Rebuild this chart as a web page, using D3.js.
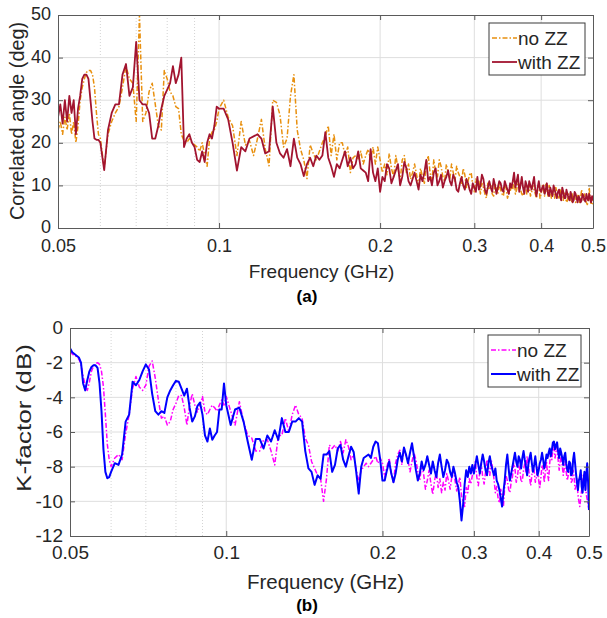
<!DOCTYPE html>
<html lang="en">
<head>
<meta charset="UTF-8">
<title>Correlated angle and K-factor vs frequency</title>
<script src="https://cdnjs.cloudflare.com/ajax/libs/d3/7.8.5/d3.min.js"></script>
<style>
  body { margin: 0; background: #fff; }
  svg { display: block; font-family: "Liberation Sans", Arial, sans-serif; }
</style>
</head>
<body>
<svg id="chart" width="607" height="618"></svg>
<script>
// sample frequencies in MHz, shared by all four curves
const freqMHz = [
  50,50.5,51,51.5,52,52.5,53,53.5,54,54.5,55,55.5,56,56.5,57,57.5,58,58.5,59,59.5,60,
  61,62,63,64,65,66,67,68,69,70,71,72,73,74,75,76,77,78,79,80,
  81,82,83,84,85,86,87,88,89,90,91,92,93,94,95,96,97,98,99,100,
  102,104,106,108,110,112,114,116,118,120,122,124,126,128,130,132,134,136,138,140,
  142,144,146,148,150,152,154,156,158,160,162,164,166,168,170,172,174,176,178,180,
  182,184,186,188,190,192,194,196,198,200,
  202,204,206,208,210,212,214,216,218,220,222,224,226,228,230,232,234,236,238,240,
  242,244,246,248,250,252,254,256,258,260,262,264,266,268,270,272,274,276,278,280,
  282,284,286,288,290,292,294,296,298,300,302,304,306,308,310,312,314,316,318,320,
  322,324,326,328,330,332,334,336,338,340,342,344,346,348,350,352,354,356,358,360,
  362,364,366,368,370,372,374,376,378,380,382,384,386,388,390,392,394,396,398,400,
  402,404,406,408,410,412,414,416,418,420,422,424,426,428,430,432,434,436,438,440,
  442,444,446,448,450,452,454,456,458,460,462,464,466,468,470,472,474,476,478,480,
  482,484,486,488,490,492,494,496,498,500
];

// (a) correlated angle, deg
const angleNoZZ = [
  23,25,22,26,23,27,22,25,20,24,30,33,35,36.5,37,37,36,33,27,22,21,
  14,22,25,27,28.5,33,38,35,34,25,50,25,27,32,34,29,24,23,37,35,
  32,31,28.5,28,22,20.5,20,21,20,19.5,19,18,20,17,14.5,21,22.5,23,25,28,
  30,26,24,17,25,19.5,20.5,17,21,25.5,18.5,14.6,30,29.5,26.5,19,21,31,36,23,
  18.5,16,11.6,19.5,17.5,16,18,20,21.5,24,17,22,16,20,20,17,19,13,16.5,17,
  16,18,15,17,18.5,16,19,15,19,16,
  13,15,12.5,17.5,14,12,17,14,11,16,17,13,15,11.5,13,15,12.5,10,14,12,
  10.5,15,17,13,11,16,13,12,16,14.5,12,11,15,13,11.5,15,13,11,14.5,13,
  12,10.5,14,12.5,9.5,11,12.5,13,10,8.5,11.5,10,11,8,10.5,9.5,8,7,10.5,9,
  10,8,7.5,10.5,9,8,10.5,9,8,7.5,10,9.5,7,8,8.5,10,9,12,8,9,
  11,10,9,8,7.5,9.5,10,8,9,10,7.5,8.5,10,9,8,7,9.5,10.5,7,8,
  10,9,7.5,10.5,9,7.5,10,9,7,8,9,7,9.5,8.5,7.5,7,9,8,7,6.5,
  8.5,7.5,6,6.5,8,7.5,7,6,8,7,7.5,6,6.5,7.5,8,6,7,9,7.5,6.5,
  8,7,6,5.5,7,9.5,6.5,5.5,7,5.5
];
const angleWithZZ = [
  26,29,24.5,30,25,31,27,30,22,28,31,35,36,36,35,30,25,21,20.7,20.7,20,
  13.6,23,27,29,29,36,38.5,31,33,43.7,30,29,29,27,21,21,24,28,31,32.5,
  34,38,34,36,40,19,21,22,20,19,16,15.5,18,15.5,20,22,21,24,28.5,28,
  28,25.5,20,13.5,19,18,21,21.5,22,21,17.5,18,28.5,20,17.5,16.5,18.5,14.5,21,16.5,
  15,12.2,15,16.5,14.5,17,16,17,22.5,16.5,14.5,12,15,14,16,18,14.5,16.5,14,15,
  18,14,13.5,13,11,18.5,13,11,14,8.5,
  12,11,15,14,10.5,12,13.5,15,10,12,15.5,14,11,10,11.5,13,11,9,12.5,11,
  13,16,11,12,10,13,14,10,11,12.5,9.5,11,12,13.5,11,10,12.5,11.5,9,8.5,
  10.5,12,10,9,11.5,10.5,9,8,10.5,9.5,8.5,12,9,10,12.5,11.5,9,8,9.5,11,
  9.5,8.5,11.5,10,8,9.5,11,10.5,9,8.5,11,10,9,8,10.5,9.5,11,13,9.5,11,
  12.5,8.5,10,12,9.5,8,11,10,8.5,11,10,9,10.5,12,9,7.5,9.5,11,9,8.5,
  9.5,10,8,9,10.5,8,7.5,9.5,8.5,7.5,10,9,8,7,8.5,9,7.5,6.5,9.5,8.5,
  7,7,9,8,7,6.5,8.5,7.5,6,6.5,8.5,8,7,6,7.5,7,6,6.5,8,7.5,
  6.5,6.2,8,7,6.5,8,7,6,7.5,6.5
];

// (b) K-factor, dB
const kNoZZ = [
  -1.36,-1.5,-1.6,-1.65,-1.8,-2.1,-2.8,-3.3,-3.6,-3.1,-2.5,-2.2,-2.05,-2,-2.1,-2.5,-3.4,-5,-6.7,-7.6,-8,
  -7.5,-7.3,-7.6,-6.1,-5,-3.5,-2.8,-3.4,-3.6,-3.3,-2.2,-1.9,-2.9,-4.15,-5.2,-5.1,-5.6,-5.4,-4.7,-4.35,
  -3.9,-3.9,-4.6,-5.6,-4.45,-3.8,-4.45,-4.85,-4.45,-3.95,-4.85,-5,-4.7,-4.45,-4.6,-4.8,-4.45,-4.15,-4.45,-3.95,
  -4.8,-5.6,-4.25,-5.4,-6.2,-6.35,-7.1,-7.1,-6.45,-6.45,-7.1,-7.9,-6.2,-6.2,-5.2,-6,-5,-4.45,-5,-5.2,
  -6.35,-6.75,-7.7,-8.1,-8.5,-8.7,-10,-8.7,-6.75,-6.95,-6.75,-7.1,-6.55,-7.2,-6.45,-6.85,-7.6,-7.3,-8.2,-8.8,
  -8.2,-8,-7.8,-8,-7.8,-7.6,-7.4,-7.8,-7.5,-7.8,
  -8.6,-8,-7.5,-8.4,-8.9,-7.8,-7.3,-7.05,-7.9,-6.85,-7.4,-7.6,-8.3,-7.7,-7.2,-7.6,-8.3,-8.8,-7.9,-8.4,
  -9.3,-8.8,-8.2,-9,-9.6,-8.8,-8.3,-9.2,-8.7,-9.5,-8.9,-9.35,-8.4,-8.8,-9.3,-8.6,-8.2,-8.8,-9.4,-9,
  -8.6,-9.7,-10,-10.3,-9.2,-9.5,-8.7,-9,-8.5,-8.2,-7.7,-8.6,-9.1,-8.3,-7.8,-8.6,-9,-8.3,-7.6,-8,
  -8.5,-7.6,-8.1,-8.7,-9.5,-9.15,-9.8,-10.1,-9.3,-9.7,-10.3,-9.15,-8.5,-8.8,-9.3,-9.5,-8.9,-8.6,-7.8,-8.1,
  -8.9,-8.6,-7.9,-8.2,-8.9,-8.8,-8.2,-7.8,-8.3,-7.4,-7.9,-8.6,-9.1,-8.5,-7.9,-8.2,-8.9,-8.6,-8,-8.8,
  -9.2,-8.6,-7.9,-8.2,-8.9,-8.3,-7.7,-8.4,-8.8,-7.8,-7.2,-7.6,-7,-6.85,-7.5,-7.15,-6.9,-7.6,-8.2,-7.7,
  -7.3,-7.9,-8.5,-8.1,-7.7,-8.3,-8.8,-8.5,-7.9,-8.2,-8.9,-8.8,-8.2,-8.6,-9.3,-9.15,-8.7,-9.6,-10,-10.3,
  -9.8,-9.35,-8.9,-8.4,-8.8,-9,-9.6,-9.9,-10.2,-10.5
];
const kWithZZ = [
  -1.17,-1.4,-1.5,-1.6,-1.7,-2,-3.2,-3.6,-3,-2.5,-2.25,-2.15,-2.15,-2.3,-3.2,-4.8,-7,-8.3,-8.67,-8.6,-8.3,
  -7.8,-7.9,-7.3,-5.4,-5,-3.1,-3.3,-3,-2.5,-2.1,-2.4,-3.8,-4.8,-5,-4.8,-4.9,-4,-3.6,-3.3,-3.05,
  -3.1,-3.5,-3.9,-3.5,-4.6,-5.4,-5.1,-4.5,-4.3,-5,-6.2,-6.55,-5.8,-6.45,-6.2,-6,-4.7,-4.7,-3.2,-4.45,
  -5.6,-4.7,-4.6,-5.4,-6.55,-7.6,-6.4,-6.4,-6.95,-6.2,-6.55,-5.9,-6.45,-5.2,-6,-6,-5.4,-5.4,-5.2,-5.4,
  -7.1,-8.1,-8.3,-9.05,-8.5,-8.7,-7.3,-7.3,-7.1,-8.3,-7.9,-6.95,-6.75,-7.6,-8,-7.4,-6.85,-7.15,-8.3,-9.55,
  -8,-7.5,-7.4,-7.3,-7.5,-6.85,-6.55,-6.65,-7.6,-8.8,
  -8.8,-8.2,-7.7,-8.4,-8.9,-8.4,-7.6,-7.2,-7.7,-6.9,-7.3,-7.8,-7.2,-6.65,-7.4,-8.2,-8.8,-8.4,-7.7,-8.2,
  -7.9,-7.4,-7.9,-8.4,-7.7,-8.2,-8.6,-7.8,-7.3,-8,-8.6,-8.2,-7.6,-7.8,-8.3,-8.6,-8,-8.4,-8.9,-9.2,
  -10,-11.1,-10.2,-9,-8.2,-8.6,-8,-8.4,-7.9,-8.4,-7.9,-7.4,-7.9,-8.4,-7.8,-7.3,-7.7,-8.2,-8.5,-7.8,
  -7.4,-7.9,-8.2,-8.5,-8.1,-8.8,-9,-9.35,-9.8,-10.3,-9.5,-8.8,-7.9,-7.3,-8.1,-8.8,-8.4,-8,-7.6,-7.2,
  -7.7,-8,-7.4,-7.6,-8.1,-7.5,-7.1,-7.6,-8,-8.5,-7.9,-7.5,-7.2,-7.8,-8.3,-7.9,-7.4,-8,-8.5,-8.2,
  -7.8,-7.6,-7.2,-7.6,-8.1,-7.8,-7.3,-7.5,-7.2,-6.95,-7.4,-7.05,-6.6,-6.55,-7,-6.75,-6.6,-7.15,-7.5,-6.95,
  -7.2,-7.5,-7.9,-7.4,-7.2,-7.8,-8.2,-8.3,-7.7,-7.8,-8.5,-8.4,-7.6,-7.2,-7.8,-8.4,-8.9,-9.35,-8.8,-8.6,
  -8.2,-9.15,-9.5,-8.8,-8.3,-9.35,-8.5,-7.8,-8.9,-10.5
];

const xTicks = [0.05, 0.1, 0.2, 0.3, 0.4, 0.5];
const xMinor = [0.06, 0.07, 0.08, 0.09];
const seriesNames = ["no ZZ", "with ZZ"];

const panels = [
  { id: "a", box: {left: 58, top: 15, right: 593, bottom: 228},
    yDomain: [0, 50], yTicks: [0, 10, 20, 30, 40, 50], ylabel: "Correlated angle (deg)",
    series: [angleNoZZ, angleWithZZ], colors: ["#e8900f", "#a2142f"], widths: [1.5, 1.8],
    dash: ["5,2,1.5,2", null], legend: {x: 489, y: 23, w: 96, h: 52},
    tickSize: 18, xPad: 11.5, yDy: "0.26em", xlabelY: 278, xlabelSize: 19, tagY: 302,
    ylabelX: 24, ylabelY: 121, ylabelSize: 20, ylabelLen: 198 },
  { id: "b", box: {left: 70, top: 328, right: 589, bottom: 536},
    yDomain: [-12, 0], yTicks: [-12, -10, -8, -6, -4, -2, 0], ylabel: "K-factor (dB)",
    series: [kNoZZ, kWithZZ], colors: ["#ff00ff", "#0000ff"], widths: [1.5, 2],
    dash: ["5,2,1.5,2", null], legend: {x: 488, y: 335, w: 93, h: 52},
    tickSize: 19, xPad: 10, yDy: "0.3em", xlabelY: 589, xlabelSize: 20.5, tagY: 611,
    ylabelX: 31, ylabelY: 418, ylabelSize: 21, ylabelLen: 148 }
];

const svg = d3.select("#chart");
const axisColor = "#262626";

panels.forEach(p => {
  const b = p.box;
  const x = d3.scaleLog().domain([0.05, 0.5]).range([b.left, b.right]);
  const y = d3.scaleLinear().domain(p.yDomain).range([b.bottom, b.top]);
  const g = svg.append("g");

  // grid
  g.append("g").selectAll("line").data(xMinor).join("line")
    .attr("x1", d => x(d)).attr("x2", d => x(d))
    .attr("y1", b.top).attr("y2", b.bottom)
    .attr("stroke", "#d4d4d4").attr("stroke-dasharray", "1,2");
  g.append("g").selectAll("line").data(xTicks.slice(1, -1)).join("line")
    .attr("x1", d => x(d)).attr("x2", d => x(d))
    .attr("y1", b.top).attr("y2", b.bottom)
    .attr("stroke", "#dedede");
  g.append("g").selectAll("line").data(p.yTicks.slice(1, -1)).join("line")
    .attr("x1", b.left).attr("x2", b.right)
    .attr("y1", d => y(d)).attr("y2", d => y(d))
    .attr("stroke", "#dedede");

  // curves
  const clipId = "clip-" + p.id;
  svg.append("clipPath").attr("id", clipId).append("rect")
    .attr("x", b.left).attr("y", b.top)
    .attr("width", b.right - b.left).attr("height", b.bottom - b.top);

  p.series.forEach((vals, i) => {
    const line = d3.line()
      .x((d, j) => x(freqMHz[j] / 1000))
      .y(d => y(d));
    g.append("path")
      .attr("clip-path", `url(#${clipId})`)
      .attr("d", line(vals))
      .attr("fill", "none")
      .attr("stroke", p.colors[i])
      .attr("stroke-width", p.widths[i])
      .attr("stroke-linejoin", "round")
      .attr("stroke-dasharray", p.dash[i]);
  });

  // axes (MATLAB style: inward ticks, box)
  const fmt = d => String(d);
  g.append("g").attr("transform", `translate(0,${b.bottom})`)
    .call(d3.axisBottom(x).tickValues(xTicks).tickFormat(fmt).tickSize(-5).tickSizeOuter(0).tickPadding(p.xPad));
  g.append("g").attr("transform", `translate(0,${b.top})`)
    .call(d3.axisTop(x).tickValues(xTicks).tickFormat("").tickSize(-5).tickSizeOuter(0));
  const ya = g.append("g").attr("transform", `translate(${b.left},0)`)
    .call(d3.axisLeft(y).tickValues(p.yTicks).tickFormat(fmt).tickSize(-5).tickSizeOuter(0).tickPadding(7));
  ya.selectAll(".tick text").attr("dy", p.yDy);
  g.append("g").attr("transform", `translate(${b.right},0)`)
    .call(d3.axisRight(y).tickValues(p.yTicks).tickFormat("").tickSize(-5).tickSizeOuter(0));

  g.selectAll(".domain").attr("stroke", "#5a5a5a");
  g.selectAll(".tick line").attr("stroke", "#5a5a5a");
  g.selectAll(".tick text").attr("fill", axisColor)
    .style("font-size", p.tickSize + "px").style("font-family", '"Liberation Sans", Arial, sans-serif');

  // labels
  svg.append("text")
    .attr("x", (b.left + b.right) / 2 - 4).attr("y", p.xlabelY)
    .attr("text-anchor", "middle").attr("fill", axisColor)
    .style("font-size", p.xlabelSize + "px")
    .text("Frequency (GHz)");
  svg.append("text")
    .attr("x", 307).attr("y", p.tagY)
    .attr("text-anchor", "middle").attr("fill", "#000")
    .style("font-size", "17px").style("font-weight", "bold")
    .text(`(${p.id})`);
  svg.append("text")
    .attr("transform", `translate(${p.ylabelX},${p.ylabelY}) rotate(-90)`)
    .attr("text-anchor", "middle").attr("fill", axisColor)
    .attr("textLength", p.ylabelLen).attr("lengthAdjust", "spacingAndGlyphs")
    .style("font-size", p.ylabelSize + "px")
    .text(p.ylabel);

  // legend
  const L = p.legend;
  const lg = svg.append("g").attr("transform", `translate(${L.x},${L.y})`);
  lg.append("rect").attr("width", L.w).attr("height", L.h)
    .attr("fill", "#fff").attr("stroke", "#3a3a3a");
  seriesNames.forEach((name, i) => {
    const ly = 15 + i * 24;
    lg.append("line").attr("x1", 3).attr("x2", 28).attr("y1", ly).attr("y2", ly)
      .attr("stroke", p.colors[i]).attr("stroke-width", p.widths[i])
      .attr("stroke-dasharray", p.dash[i]);
    lg.append("text").attr("x", 29).attr("y", ly + 6.5)
      .attr("fill", axisColor).style("font-size", "19px")
      .text(name);
  });
});
</script>
</body>
</html>
